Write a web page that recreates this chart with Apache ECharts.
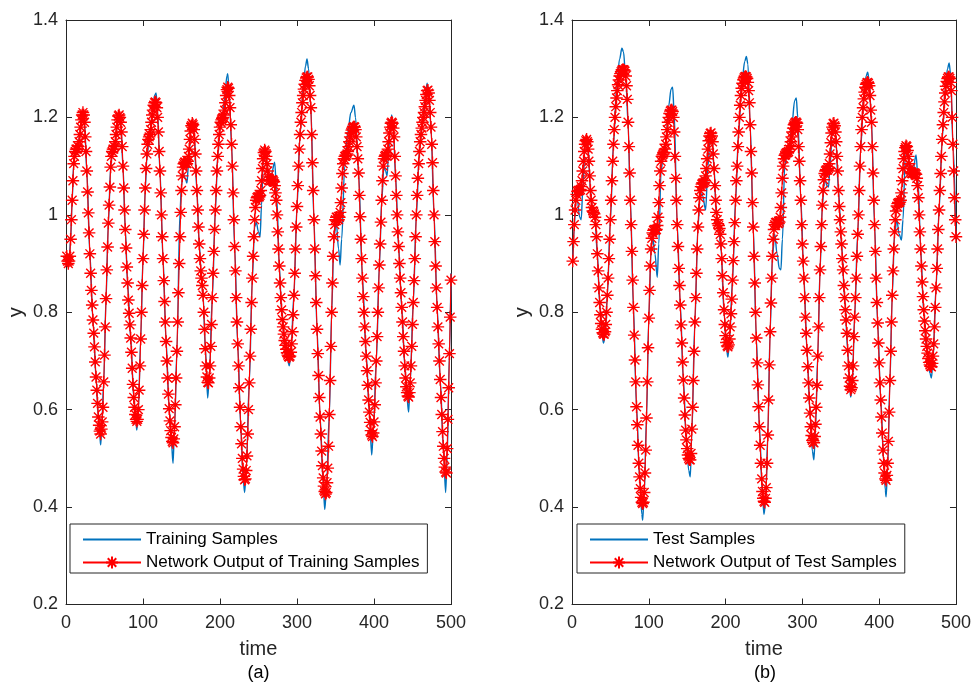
<!DOCTYPE html>
<html><head><meta charset="utf-8">
<script src="https://cdn.jsdelivr.net/npm/echarts@6/dist/echarts.min.js"></script>
<style>html,body{margin:0;padding:0;background:#fff}#c{width:974px;height:682px}</style>
</head><body><div id="c"></div>
<script>
const xTicks = [0, 100, 200, 300, 400, 500];
const yTicks = [0.2, 0.4, 0.6, 0.8, 1.0, 1.2, 1.4];
const panelLabels = ['(a)', '(b)'];
const legendA = ['Training Samples', 'Network Output of Training Samples'];
const legendB = ['Test Samples', 'Network Output of Test Samples'];

// Network output, one value per time step (t = 1..500)
const trainOut = [
0.915,0.905,0.90,0.905,0.915,0.95,0.99,1.03,1.07,1.105,
1.12,1.13,1.135,1.135,1.135,1.14,1.15,1.165,1.18,1.195,1.205,1.21,1.205,
1.19,1.16,1.13,1.09,1.047,1.004,0.963,0.92,0.88,0.845,0.815,0.784,0.757,0.729,0.698,0.667,0.64,0.613,0.585,0.568,0.556,0.55,
0.56,0.575,0.605,0.657,0.712,0.77,0.828,0.887,0.934,0.983,1.02,1.057,1.098,1.12,1.13,1.135,1.135,1.14,1.15,1.165,1.18,1.195,1.203,1.205,1.2,
1.19,1.17,1.14,1.10,1.055,1.01,0.97,0.932,0.893,0.86,0.825,0.798,0.774,0.747,0.718,0.685,0.652,0.625,0.605,0.59,0.58,0.576,0.58,
0.60,0.64,0.69,0.745,0.80,0.855,0.91,0.96,1.01,1.055,1.095,1.125,1.145,1.155,1.16,1.165,1.175,1.19,1.205,1.215,1.225,1.23,1.232,1.23,
1.22,1.20,1.17,1.13,1.09,1.045,1.0,0.955,0.91,0.865,0.822,0.78,0.74,0.70,0.665,0.632,0.602,0.577,0.557,0.543,0.535,0.532,0.54,
0.565,0.61,0.665,0.72,0.78,0.84,0.9,0.955,1.005,1.05,1.08,1.098,1.105,1.108,1.108,1.105,1.105,1.11,1.12,1.135,1.155,1.172,1.183,1.188,1.185,
1.175,1.155,1.125,1.09,1.05,1.01,0.975,0.94,0.91,0.885,0.87,0.855,0.835,0.80,0.765,0.725,0.69,0.667,0.656,0.655,0.665,
0.69,0.73,0.775,0.83,0.88,0.925,0.97,1.01,1.05,1.09,1.12,1.145,1.165,1.18,1.19,1.195,1.198,1.2,1.205,1.215,1.23,1.245,1.257,1.262,1.26,
1.245,1.22,1.185,1.145,1.10,1.045,0.99,0.935,0.885,0.83,0.78,0.735,0.69,0.645,0.605,0.565,0.53,0.50,0.478,0.463,0.456,0.458,
0.475,0.505,0.55,0.60,0.655,0.71,0.765,0.82,0.87,0.915,0.955,0.99,1.015,1.03,1.035,1.037,1.037,1.037,1.04,1.05,1.07,1.095,1.115,1.128,1.133,1.13,1.12,1.105,1.09,1.078,1.072,1.07,1.07,1.071,1.072,1.071,1.068,1.06,1.045,
1.03,1.0,0.965,0.93,0.895,0.86,0.83,0.805,0.785,0.77,0.755,0.742,0.732,0.724,0.717,0.712,0.709,0.708,0.71,0.718,
0.735,0.76,0.795,0.835,0.88,0.93,0.975,1.017,1.06,1.10,1.135,1.165,1.19,1.21,1.23,1.245,1.258,1.268,1.276,1.281,1.283,1.283,1.278,
1.265,1.245,1.22,1.165,1.107,1.05,0.99,0.93,0.875,0.82,0.765,0.715,0.67,0.625,0.585,0.55,0.515,0.485,0.46,0.443,0.432,0.427,0.43,
0.45,0.48,0.525,0.59,0.66,0.73,0.80,0.86,0.915,0.955,0.98,0.99,0.995,0.995,0.99,0.99,0.995,1.005,1.025,1.055,1.085,1.105,1.115,1.12,1.12,1.122,1.125,1.13,1.14,1.15,1.16,1.168,1.174,1.178,1.18,1.181,1.18,
1.175,1.16,1.14,1.115,1.086,1.04,0.996,0.95,0.91,0.87,0.832,0.80,0.77,0.74,0.71,0.68,0.65,0.62,0.595,0.574,0.557,0.548,0.545,0.552,
0.575,0.61,0.655,0.70,0.75,0.80,0.85,0.897,0.94,0.985,1.03,1.07,1.1,1.115,1.12,1.122,1.122,1.125,1.135,1.15,1.168,1.18,1.188,1.19,1.188,
1.178,1.16,1.12,1.08,1.04,1.0,0.965,0.935,0.90,0.87,0.84,0.81,0.78,0.75,0.72,0.69,0.665,0.647,0.635,0.628,0.626,0.635,
0.655,0.69,0.73,0.775,0.82,0.865,0.91,0.955,1.0,1.04,1.075,1.105,1.13,1.15,1.165,1.178,1.19,1.2,1.21,1.222,1.235,1.247,1.255,1.256,1.25,
1.235,1.21,1.18,1.145,1.107,1.05,1.0,0.945,0.895,0.85,0.81,0.77,0.735,0.70,0.662,0.625,0.59,0.555,0.525,0.50,0.482,0.472,0.47,
0.52,0.58,0.645,0.715,0.79,0.866
];

const testOut = [
0.905,0.945,0.98,1.01,1.03,1.042,1.048,1.05,1.05,1.05,1.052,1.058,1.07,1.09,1.11,1.13,1.145,1.152,1.155,1.15,
1.135,1.11,1.08,1.05,1.03,1.015,1.008,1.005,1.002,0.995,0.98,0.955,0.92,0.885,0.85,0.82,0.795,0.777,0.765,0.758,0.755,0.755,0.76,0.775,
0.80,0.835,0.87,0.91,0.95,0.99,1.03,1.07,1.11,1.145,1.175,1.20,1.222,1.24,1.255,1.267,1.277,1.285,1.29,1.294,1.297,1.298,1.298,1.297,1.295,1.285,
1.265,1.237,1.19,1.14,1.086,1.03,0.98,0.925,0.866,0.81,0.753,0.702,0.657,0.606,0.569,0.527,0.49,0.462,0.438,0.42,0.41,0.407,0.41,
0.43,0.47,0.517,0.583,0.657,0.727,0.788,0.845,0.895,0.93,0.952,0.963,0.968,0.97,0.969,0.968,0.97,0.978,0.995,1.025,1.06,1.09,1.11,1.12,1.123,1.125,1.128,1.135,1.145,1.16,1.175,1.19,1.2,1.208,1.213,1.215,1.215,1.212,
1.2,1.17,1.12,1.075,1.03,0.98,0.935,0.89,0.855,0.815,0.774,0.737,0.698,0.661,0.624,0.589,0.558,0.538,0.52,0.507,0.5,0.497,0.497,0.51,
0.56,0.605,0.66,0.72,0.78,0.83,0.88,0.93,0.975,1.01,1.035,1.05,1.058,1.063,1.065,1.065,1.066,1.07,1.08,1.095,1.115,1.135,1.152,1.162,1.167,1.168,1.162,
1.15,1.125,1.095,1.06,1.03,1.005,0.99,0.982,0.978,0.972,0.96,0.94,0.91,0.875,0.84,0.805,0.775,0.752,0.738,0.731,0.729,0.733,
0.745,0.77,0.797,0.827,0.866,0.906,0.945,0.984,1.03,1.07,1.1,1.14,1.17,1.2,1.225,1.245,1.26,1.27,1.277,1.281,1.283,1.284,1.283,1.28,1.272,
1.255,1.23,1.185,1.13,1.086,1.025,0.975,0.915,0.86,0.80,0.747,0.696,0.651,0.606,0.565,0.527,0.49,0.458,0.432,0.418,0.412,0.41,0.418,
0.44,0.49,0.548,0.62,0.692,0.76,0.819,0.87,0.915,0.95,0.97,0.98,0.984,0.985,0.984,0.982,0.982,0.985,0.995,1.015,1.045,1.075,1.1,1.115,1.122,1.125,1.127,1.128,1.128,1.13,1.135,1.142,1.15,1.16,1.17,1.178,1.185,1.188,1.19,1.19,1.188,
1.175,1.14,1.11,1.07,1.03,0.98,0.94,0.905,0.87,0.83,0.79,0.757,0.722,0.688,0.655,0.624,0.593,0.565,0.547,0.537,0.533,0.532,0.545,
0.57,0.605,0.65,0.71,0.77,0.83,0.887,0.935,0.98,1.02,1.05,1.072,1.085,1.09,1.092,1.092,1.092,1.095,1.105,1.125,1.148,1.168,1.18,1.187,1.188,1.183,
1.17,1.15,1.12,1.09,1.05,1.017,0.99,0.965,0.94,0.91,0.887,0.855,0.83,0.805,0.784,0.757,0.722,0.69,0.665,0.648,0.641,0.645,
0.66,0.69,0.75,0.79,0.83,0.87,0.915,0.96,1.0,1.05,1.1,1.14,1.175,1.2,1.22,1.238,1.252,1.262,1.268,1.271,1.272,1.27,1.265,
1.245,1.215,1.19,1.14,1.086,1.03,0.98,0.925,0.87,0.82,0.778,0.737,0.696,0.655,0.62,0.585,0.552,0.517,0.49,0.47,0.458,0.455,0.465,
0.49,0.535,0.595,0.66,0.72,0.78,0.835,0.885,0.93,0.965,0.99,1.008,1.018,1.023,1.025,1.025,1.026,1.03,1.045,1.07,1.095,1.115,1.13,1.138,1.142,1.14,1.132,1.12,1.105,1.095,1.088,1.085,1.084,1.085,1.086,1.086,1.085,
1.083,1.075,1.06,1.035,1.0,0.965,0.93,0.895,0.862,0.832,0.805,0.782,0.762,0.745,0.73,0.716,0.705,0.697,0.692,0.689,0.688,
0.695,0.71,0.735,0.77,0.81,0.85,0.89,0.93,0.97,1.01,1.05,1.085,1.12,1.155,1.185,1.21,1.232,1.25,1.264,1.274,1.28,1.283,1.283,1.28,1.272,
1.255,1.2,1.145,1.09,1.035,0.99,0.955
];

// True samples, read at key times (time, value)
const trainTrueT = [1,4,6,8,10,12,15,18,20,22,24,27,31,35,39,42,44,45,46,49,52,55,58,60,62,64,67,69,71,74,77,80,84,88,91,92,94,97,100,103,105,107,109,112,115,117,119,122,126,130,134,137,139,141,144,148,150,152,155,157,159,162,164,166,170,173,176,178,181,184,186,190,194,197,200,203,206,209,210,212,215,219,223,227,230,232,234,238,242,245,247,250,252,254,256,258,261,264,267,271,274,277,280,284,288,290,292,296,300,304,308,311,313,315,318,322,326,330,334,336,338,342,345,348,351,354,356,358,362,366,370,374,376,380,385,390,394,397,399,403,407,410,413,415,417,419,421,423,425,428,432,436,440,443,445,447,451,455,459,463,466,469,471,474,478,482,486,490,493,495,498,500];
const trainTrueV = [0.915,0.905,0.95,1.03,1.105,1.13,1.135,1.165,1.195,1.21,1.19,1.09,0.92,0.784,0.667,0.585,0.545,0.528,0.55,0.657,0.828,0.983,1.098,1.125,1.13,1.15,1.2,1.212,1.19,1.10,0.97,0.86,0.747,0.625,0.57,0.558,0.60,0.745,0.91,1.055,1.115,1.14,1.155,1.21,1.245,1.25,1.21,1.09,0.91,0.74,0.602,0.53,0.49,0.565,0.72,1.005,1.06,1.085,1.075,1.065,1.1,1.172,1.192,1.175,1.05,0.94,0.87,0.835,0.725,0.624,0.665,0.83,1.01,1.12,1.175,1.19,1.24,1.285,1.29,1.25,1.145,0.935,0.735,0.565,0.46,0.43,0.475,0.655,0.87,0.975,0.985,0.965,0.955,1.02,1.11,1.14,1.1,1.06,1.085,1.108,1.03,0.895,0.805,0.742,0.70,0.69,0.715,0.835,1.017,1.165,1.26,1.305,1.32,1.30,1.22,0.99,0.765,0.585,0.45,0.395,0.43,0.59,0.80,0.955,0.985,0.93,0.897,0.95,1.10,1.17,1.21,1.225,1.2,1.086,0.87,0.71,0.595,0.507,0.55,0.70,0.897,1.03,1.1,1.09,1.08,1.13,1.18,1.205,1.18,1.08,0.935,0.81,0.69,0.62,0.595,0.655,0.82,1.0,1.13,1.19,1.235,1.27,1.25,1.18,1.0,0.81,0.662,0.525,0.43,0.5,0.715,0.88];

const testTrueT = [1,3,5,7,10,12,14,17,19,21,24,27,30,33,36,39,41,43,46,50,54,58,62,65,67,70,73,76,80,84,88,91,92,94,97,100,103,105,108,111,113,116,119,122,126,129,131,133,137,141,145,149,152,154,156,160,164,167,170,174,177,180,182,185,188,191,194,198,201,203,205,209,213,217,221,225,227,229,232,236,240,244,248,250,252,255,258,261,264,267,270,272,274,277,280,283,286,290,292,294,298,302,306,310,313,315,317,320,323,326,329,332,334,336,339,341,343,347,351,355,359,362,363,365,368,372,376,380,383,385,387,390,394,398,402,406,408,409,411,414,417,420,423,426,429,431,434,437,440,444,448,451,454,458,462,466,468,470,474,478,482,486,489,491,493,496,500];
const testTrueV = [0.905,0.975,1.035,1.03,0.995,0.99,1.05,1.14,1.16,1.14,1.05,1.005,0.99,0.92,0.82,0.755,0.737,0.75,0.835,0.99,1.145,1.26,1.32,1.342,1.335,1.28,1.19,1.03,0.81,0.606,0.462,0.385,0.373,0.425,0.583,0.788,0.93,0.955,0.92,0.872,0.94,1.09,1.125,1.15,1.225,1.258,1.262,1.21,0.98,0.815,0.661,0.535,0.475,0.462,0.55,0.78,0.975,1.045,1.04,1.01,1.1,1.16,1.17,1.095,1.0,0.975,0.93,0.8,0.727,0.708,0.74,0.866,1.03,1.17,1.27,1.315,1.325,1.31,1.185,0.975,0.747,0.565,0.425,0.385,0.41,0.548,0.76,0.915,0.96,0.92,0.89,0.887,0.95,1.1,1.125,1.135,1.18,1.235,1.24,1.2,1.03,0.87,0.722,0.593,0.515,0.497,0.56,0.71,0.887,1.02,1.075,1.06,1.057,1.1,1.175,1.19,1.17,1.05,0.94,0.83,0.722,0.635,0.626,0.65,0.79,0.96,1.14,1.245,1.285,1.293,1.275,1.19,0.98,0.778,0.62,0.49,0.435,0.421,0.48,0.66,0.835,0.96,0.99,0.96,0.948,0.99,1.12,1.13,1.09,1.09,1.123,1.06,0.93,0.8,0.72,0.675,0.665,0.7,0.85,1.01,1.155,1.26,1.3,1.312,1.29,1.145,0.95];

const FONT = "'Liberation Sans', Arial, Helvetica, sans-serif";
const AX = '#262626';
const BLUE = '#0072BD';
const RED = '#FF0000';
const STAR = 'path://M5 0L5 10M0 5L10 5M1.46 1.46L8.54 8.54M1.46 8.54L8.54 1.46';

function pairs(ts, vs) { return ts.map((t, i) => [t, vs[i]]); }
function seq(vs) { return vs.map((v, i) => [i + 1, v]); }

const grids = [
  { left: 66, top: 20, width: 385, height: 584.5 },
  { left: 572, top: 20, width: 386, height: 584.5 }
];

function xAx(g, pos) {
  const main = pos === 'bottom';
  return {
    type: 'value', gridIndex: g, position: pos, min: xTicks[0], max: xTicks[xTicks.length - 1], interval: 100,
    name: main ? 'time' : '', nameLocation: 'middle', nameGap: 35,
    nameTextStyle: { fontFamily: FONT, fontSize: 20, color: AX },
    axisLine: { show: true, onZero: false, lineStyle: { color: AX, width: 1 } },
    axisTick: { show: true, inside: true, length: 6, lineStyle: { color: AX } },
    axisLabel: { show: main, margin: 10, fontFamily: FONT, fontSize: 18, color: AX },
    splitLine: { show: false }
  };
}
function yAx(g, pos) {
  const main = pos === 'left';
  return {
    type: 'value', gridIndex: g, position: pos, min: 0.2, max: 1.4, interval: 0.2,
    name: main ? 'y' : '', nameLocation: 'middle', nameGap: 40,
    nameTextStyle: { fontFamily: FONT, fontSize: 20, color: AX },
    axisLine: { show: true, onZero: false, lineStyle: { color: AX, width: 1 } },
    axisTick: { show: true, inside: true, length: 6, lineStyle: { color: AX } },
    axisLabel: { show: main, margin: 8, fontFamily: FONT, fontSize: 18, color: AX,
      formatter: v => String(Math.round(v * 10) / 10) },
    splitLine: { show: false }
  };
}

function trueSeries(name, g, data) {
  return { name, type: 'line', xAxisIndex: g * 2, yAxisIndex: g * 2, data,
    smooth: 0.35, smoothMonotone: 'x', showSymbol: false, symbol: 'none',
    lineStyle: { color: BLUE, width: 1.4 }, itemStyle: { color: BLUE }, z: 2, silent: true };
}
function outSeries(name, g, data) {
  return { name, type: 'line', xAxisIndex: g * 2, yAxisIndex: g * 2, data,
    symbol: STAR, symbolSize: 12.5, showSymbol: true,
    lineStyle: { color: RED, width: 1.1 },
    itemStyle: { color: 'rgba(0,0,0,0)', borderColor: RED, borderWidth: 1.4 }, z: 3, silent: true };
}

function legend(left, names) {
  return {
    left, top: 524, orient: 'vertical',
    data: [{ name: names[0], itemStyle: { opacity: 0 } }, { name: names[1] }],
    itemWidth: 58, itemHeight: 15, itemGap: 6,
    padding: [7, 8, 2, 12],
    backgroundColor: '#fff', borderColor: AX, borderWidth: 1, borderRadius: 0,
    textStyle: { fontFamily: FONT, fontSize: 17, color: '#000' },
    selectedMode: false
  };
}

const chart = echarts.init(document.getElementById('c'), null, { renderer: 'canvas' });
chart.setOption({
  animation: false,
  backgroundColor: '#fff',
  grid: grids,
  xAxis: [xAx(0, 'bottom'), xAx(0, 'top'), xAx(1, 'bottom'), xAx(1, 'top')],
  yAxis: [yAx(0, 'left'), yAx(0, 'right'), yAx(1, 'left'), yAx(1, 'right')],
  legend: [legend(70, legendA), legend(577, legendB)],
  series: [
    trueSeries(legendA[0], 0, pairs(trainTrueT, trainTrueV)),
    outSeries(legendA[1], 0, seq(trainOut)),
    trueSeries(legendB[0], 1, pairs(testTrueT, testTrueV)),
    outSeries(legendB[1], 1, seq(testOut))
  ],
  graphic: [
    { type: 'text', x: 258.5, y: 673, style: { text: panelLabels[0], font: '18px ' + FONT, fill: '#000', textAlign: 'center', textVerticalAlign: 'middle' } },
    { type: 'text', x: 765, y: 673, style: { text: panelLabels[1], font: '18px ' + FONT, fill: '#000', textAlign: 'center', textVerticalAlign: 'middle' } }
  ]
});
</script>
</body></html>
